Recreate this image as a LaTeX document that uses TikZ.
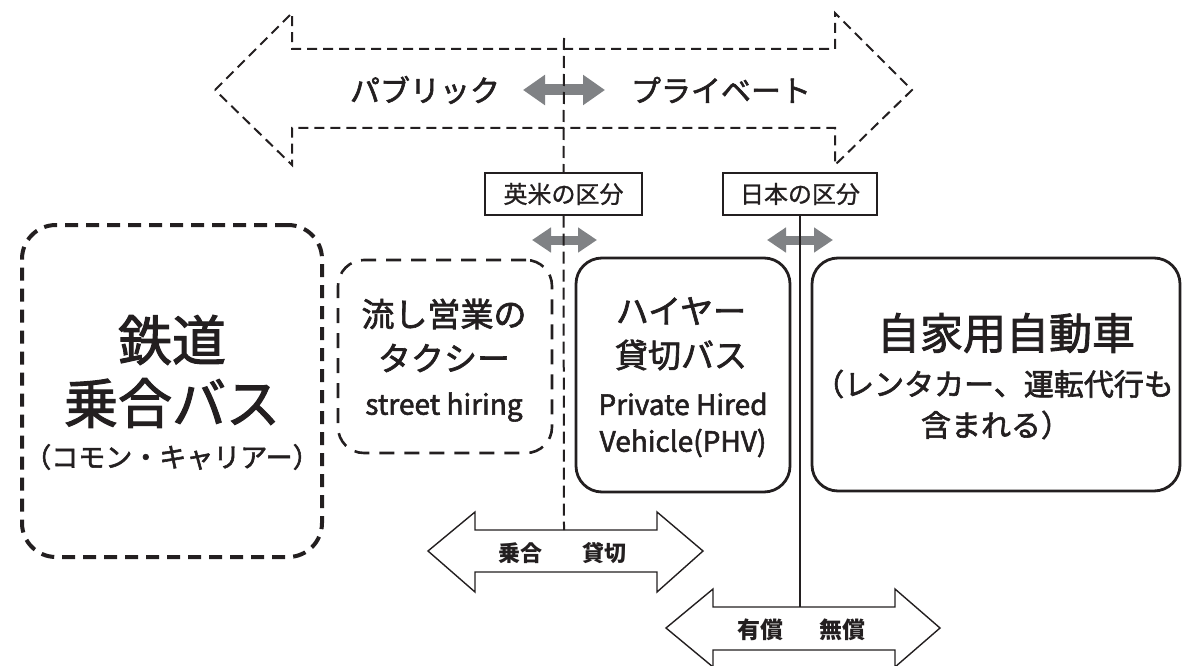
\documentclass[tikz,border=0pt]{standalone}
\usepackage{fontspec}
\setmainfont{Noto Sans CJK JP}
\newfontfamily\medfont{Noto Sans CJK JP}[FakeBold=2]
\newfontfamily\tagfont{Noto Sans CJK JP}[FakeBold=1]
\usetikzlibrary{arrows.meta}
\definecolor{arrowgray}{HTML}{808285}
\definecolor{ink}{HTML}{231F20}
\begin{document}
\begin{tikzpicture}[x=1pt,y=-1pt,
  fs/.style={font=\medfont\fontsize{#1}{#1}\selectfont, text=ink, inner sep=0pt},
  fsb/.style={font=\fontsize{#1}{#1}\selectfont\bfseries, text=ink, inner sep=0pt},
  railbox/.style={draw=ink, line width=4pt, dash pattern=on 13pt off 8pt, rounded corners=34pt, inner sep=0pt},
  taxibox/.style={draw=ink, line width=2.6pt, dash pattern=on 15pt off 10pt, rounded corners=26pt, inner sep=0pt},
  solidbox/.style={draw=ink, line width=2.8pt, rounded corners=26pt, inner sep=0pt},
  tagbox/.style={draw=ink, line width=1.3pt, fill=white, inner sep=0pt, minimum height=42pt, font=\tagfont\fontsize{24}{24}\selectfont, text=ink},
  bigarrow/.style={draw=ink, line width=2pt, dash pattern=on 10pt off 6pt},
  outarrow/.style={draw=ink, line width=1.4pt, fill=white},
  grayarrow/.style={draw=arrowgray, line width=#1},
  vdash/.style={draw=ink, line width=2pt, dash pattern=on 12pt off 6pt},
  vsolid/.style={draw=ink, line width=2pt}
]
\useasboundingbox (0,0) rectangle (1185,666);

% top dashed double arrow
\draw[bigarrow] (215,90) -- (292,13) -- (292,49) -- (835,49) -- (835,13) -- (912,90)
  -- (835,165) -- (835,128) -- (292,128) -- (292,165) -- cycle;

% bottom outline double arrows
\draw[outarrow] (428,551) -- (475,512) -- (475,530) -- (657,530) -- (657,512) -- (703,551)
  -- (657,592) -- (657,572) -- (475,572) -- (475,592) -- cycle;
\draw[outarrow] (666,628) -- (713,589) -- (713,607) -- (895,607) -- (895,589) -- (940,628)
  -- (895,667) -- (895,650) -- (713,650) -- (713,667) -- cycle;

% gray double arrows
\coordinate (g1l) at (523,90);  \coordinate (g1r) at (605,90);
\coordinate (g2l) at (532,240); \coordinate (g2r) at (597,240);
\coordinate (g3l) at (767,240); \coordinate (g3r) at (833,240);
\draw[grayarrow=11pt, {Triangle[length=22pt,width=29pt]}-{Triangle[length=22pt,width=29pt]}] (g1l) -- (g1r);
\draw[grayarrow=9pt, {Triangle[length=19pt,width=24pt]}-{Triangle[length=19pt,width=24pt]}] (g2l) -- (g2r);
\draw[grayarrow=9pt, {Triangle[length=19pt,width=24pt]}-{Triangle[length=19pt,width=24pt]}] (g3l) -- (g3r);

% division tags
\node[tagbox, minimum width=157pt] (eibei) at (563.5,194) {英米の区分};
\node[tagbox, minimum width=154pt] (nihon) at (800,194) {日本の区分};

% vertical dividers
\coordinate (vtop) at (564,38);
\coordinate (vbot1) at (564,530);
\coordinate (vbot2) at (800,607);
\draw[vdash] (vtop) -- (eibei.north);
\draw[vdash] (eibei.south) -- (vbot1);
\draw[vsolid] (nihon.south) -- (vbot2);

% top arrow labels
\node[fs=30] (pub) at (425,90) {パブリック};
\node[fs=30] (pri) at (721,90) {プライベート};

% bottom arrow labels
\node[fsb=22] (noriai) at (520,553) {乗合};
\node[fsb=22] (kashi) at (604,553) {貸切};
\node[fsb=23] (yusho) at (760,630) {有償};
\node[fsb=23] (musho) at (842,630) {無償};

% boxes
\node[railbox, minimum width=300pt, minimum height=332pt] (rail) at (172,391) {};
\node[taxibox, minimum width=214pt, minimum height=193pt] (taxi) at (445,356.5) {};
\node[solidbox, minimum width=214pt, minimum height=234pt] (hire) at (683,375) {};
\node[solidbox, minimum width=368pt, minimum height=233pt] (own) at (996,374.5) {};

% box texts
\node[fs=54] (r1) at (172,340) {鉄道};
\node[fs=54] (r2) at (172,403) {乗合バス};
\node[fs=27] (r3) at (172,457) {（コモン・キャリアー）};

\node[fs=33] (t1) at (444,314) {流し営業の};
\node[fs=33] (t2) at (444,358) {タクシー};
\node[fs=28] (t3) at (444,407) {street hiring};

\node[fs=33] (h1) at (681,311) {ハイヤー};
\node[fs=33] (h2) at (681,355) {貸切バス};
\node[fs=28] (h3) at (683,404) {Private Hired};
\node[fs=28] (h4) at (683,443) {Vehicle(PHV)};

\node[fs=43] (o1) at (1006,333) {自家用自動車};
\node[fs=30] (o2) at (994,384) {（レンタカー、運転代行も};
\node[fs=30] (o3) at (996,425) {含まれる）};
\end{tikzpicture}
\end{document}
